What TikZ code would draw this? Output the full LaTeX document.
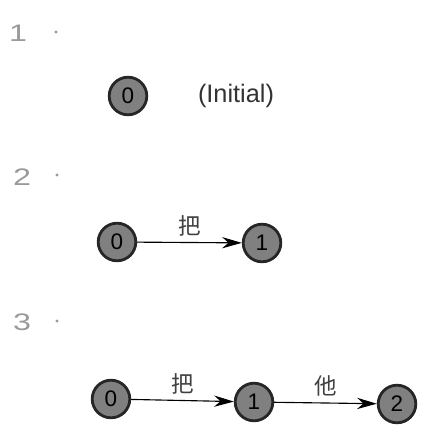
\documentclass[tikz,border=0pt]{standalone}
\usepackage{fontspec}
\setmainfont{Liberation Sans}
\newfontfamily\cjk{Noto Sans CJK SC}
\usetikzlibrary{arrows.meta}
\newcommand{\stepno}[1]{\fontsize{17}{20}\selectfont\color{black!40}#1}

\begin{document}
\begin{tikzpicture}[x=0.025cm,y=-0.025cm,
    st/.style={circle,draw=black!85,line width=2pt,fill=black!50,
      minimum size=0.94cm,inner sep=0pt,font=\fontsize{16}{18}\selectfont},
    edge/.style={-{Stealth[length=14pt,width=8pt]},line width=0.8pt},
    num/.style={xscale=1.35,inner sep=0pt},
    lbl/.style={font=\cjk\fontsize{16}{18}\selectfont,text=black!75}]
  \useasboundingbox (0,0) rectangle (439,440);
  % step 1
  \node[num] (n1) at (18,33) {\stepno{1}};
  \fill[black!40] (56,32) circle(1.6);
  \node[st] (a0) at (128,96) {0};
  \node[font=\fontsize{18}{20}\selectfont,text=black!80] (init) at (236,96) {(Initial)};
  % step 2
  \node[num] (n2) at (22,177) {\stepno{2}};
  \fill[black!40] (57,175) circle(1.6);
  \node[st] (b0) at (117,242) {0};
  \node[st] (b1) at (262,243) {1};
  \draw[edge] (b0) -- (b1) node[midway,above=1pt,lbl] {把};
  % step 3
  \node[num] (n3) at (22,322) {\stepno{3}};
  \fill[black!40] (57,321) circle(1.6);
  \node[st] (c0) at (111,399) {0};
  \node[st] (c1) at (254,402) {1};
  \node[st] (c2) at (397,404) {2};
  \draw[edge] (c0) -- (c1) node[midway,above=1pt,lbl] {把};
  \draw[edge] (c1) -- (c2) node[midway,above=1pt,lbl] {他};
\end{tikzpicture}
\end{document}
